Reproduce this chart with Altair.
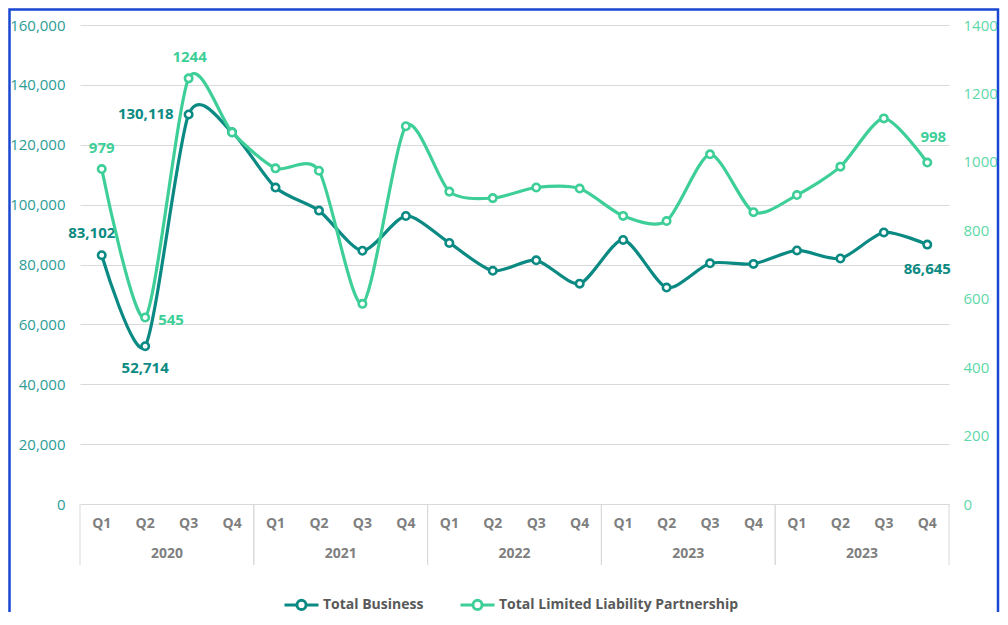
import altair as alt
import pandas as pd

quarters = ["Q1", "Q2", "Q3", "Q4"] * 5
years = ["2020", "2021", "2022", "2023", "2023"]
total_business = [83102, 52714, 130118, 124200, 105700, 98000, 84600, 96200,
                  87200, 77900, 81400, 73600, 88200, 72300, 80400, 80200,
                  84700, 82000, 90700, 86645]
total_llp = [979, 545, 1244, 1086, 981, 974, 585, 1104,
             913, 894, 925, 922, 842, 827, 1022, 853,
             903, 986, 1127, 998]
series_names = ["Total Business", "Total Limited Liability Partnership"]
left_ticks = [0, 20000, 40000, 60000, 80000, 100000, 120000, 140000, 160000]
right_ticks = [0, 200, 400, 600, 800, 1000, 1200, 1400]

C_BUS = "#0A8A82"
C_LLP = "#3ECF98"
FONT = "Open Sans"
TENSION = 0.25

n = len(quarters)
df = pd.DataFrame({
    "idx": list(range(n)),
    "quarter": quarters,
    "year": [y for y in years for _ in range(4)],
    "grp": [i // 4 for i in range(n)],
})
df_b = df.assign(value=total_business, series=series_names[0])
df_l = df.assign(value=total_llp, series=series_names[1])

W, H = 869, 479
PAD_B = 108
xscale = alt.Scale(domain=[-0.5, n - 0.5], nice=False, zero=False)
xs = alt.X("idx:Q", scale=xscale, axis=None)
color = alt.Color("series:N", scale=alt.Scale(domain=series_names, range=[C_BUS, C_LLP]),
                  legend=alt.Legend(title=None, orient="none", legendX=203, legendY=561,
                                    direction="horizontal",
                                    symbolType="M-1,0H-0.27M0.27,0H1M-0.27,0A0.27,0.27 0 1,0 0.27,0A0.27,0.27 0 1,0 -0.27,0",
                                    symbolSize=1156, symbolStrokeWidth=3, symbolFillColor="white",
                                    labelFont=FONT, labelFontSize=14, labelFontWeight="bold",
                                    labelColor="#595959", labelOffset=3, columnPadding=30,
                                    labelLimit=400))

yl = alt.Y("value:Q", scale=alt.Scale(domain=[0, 160000], nice=False),
           axis=alt.Axis(orient="left", values=left_ticks, format=",d", title=None,
                         domain=False, ticks=False, labelPadding=15, labelColor="#2C9C96",
                         labelFont=FONT, labelFontSize=15, grid=True, gridColor="#D9D9D9",
                         gridWidth=1))
yr = alt.Y("value:Q", scale=alt.Scale(domain=[0, 1400], nice=False),
           axis=alt.Axis(orient="right", values=right_ticks, format="d", title=None,
                         domain=False, ticks=False, labelPadding=14, labelColor="#5DD8A8",
                         labelFont=FONT, labelFontSize=15, grid=False))


def series_layers(data, y, col, labels, fmt):
    base = alt.Chart(data).encode(x=xs, y=y)
    line = base.mark_line(interpolate="cardinal", tension=TENSION, strokeWidth=3.2).encode(color=color)
    pts = base.mark_point(filled=True, fill="white", stroke=col, strokeWidth=2.6,
                          size=55, opacity=1, shape="circle")
    layers = [line, pts]
    for i, dx, dy, align in labels:
        layers.append(
            base.transform_filter(alt.datum.idx == i)
            .mark_text(font=FONT, fontSize=15, fontWeight="bold", color=col,
                       dx=dx, dy=dy, align=align, baseline="middle")
            .encode(text=alt.Text("value:Q", format=fmt))
        )
    return alt.layer(*layers)


bus = series_layers(df_b, yl, C_BUS, [(0, -10, -22, "center"), (1, 0, 22, "center"),
                                       (2, -15, 0, "right"), (19, 0, 24, "center")], ",d")
llp = series_layers(df_l, yr, C_LLP, [(0, 0, -21, "center"), (1, 13, 2, "left"),
                                       (2, 1, -21, "center"), (19, 6, -26, "center")], "d")

# category axis: quarter labels, year labels, separators
qlab = alt.Chart(df).mark_text(font=FONT, fontSize=14, fontWeight="bold", color="#7F7F7F",
                               baseline="middle").encode(x=xs, y=alt.value(H + 20), text="quarter:N")
ylab = alt.Chart(df).transform_aggregate(center="mean(idx)", groupby=["grp", "year"]).mark_text(
    font=FONT, fontSize=14, fontWeight="bold", color="#7F7F7F", baseline="middle"
).encode(x=alt.X("center:Q", scale=xscale, axis=None), y=alt.value(H + 50), text="year:N")
sep_lo = alt.Chart(df).transform_aggregate(lo="min(idx)", groupby=["grp"]).transform_calculate(
    b="datum.lo - 0.5").mark_rule(color="#D9D9D9", strokeWidth=1).encode(
    x=alt.X("b:Q", scale=xscale, axis=None), y=alt.value(H), y2=alt.value(H + 61))
sep_hi = alt.Chart(df).transform_aggregate(hi="max(idx)", groupby=["grp"]).transform_calculate(
    b="datum.hi + 0.5").mark_rule(color="#D9D9D9", strokeWidth=1).encode(
    x=alt.X("b:Q", scale=xscale, axis=None), y=alt.value(H), y2=alt.value(H + 61))

# decorative blue frame around the whole chart (bottom edge runs past the page)
frame = alt.Chart(df).transform_filter(alt.datum.idx == 0).mark_rect(
    fill="transparent", stroke="#1947D1", strokeWidth=2.5
).encode(x=alt.value(-70.5), x2=alt.value(W + 49), y=alt.value(-15.5), y2=alt.value(H + PAD_B + 40))

chart = alt.layer(bus, llp, qlab, ylab, sep_lo, sep_hi, frame).resolve_scale(
    y="independent", color="shared"
).properties(
    width=W, height=H,
    padding={"left": 72, "top": 17, "right": 51, "bottom": PAD_B},
    autosize=alt.AutoSizeParams(type="none"),
    background="white",
).configure_view(stroke=None)

chart.save("out.html", embed_options={"renderer": "svg", "actions": False})
